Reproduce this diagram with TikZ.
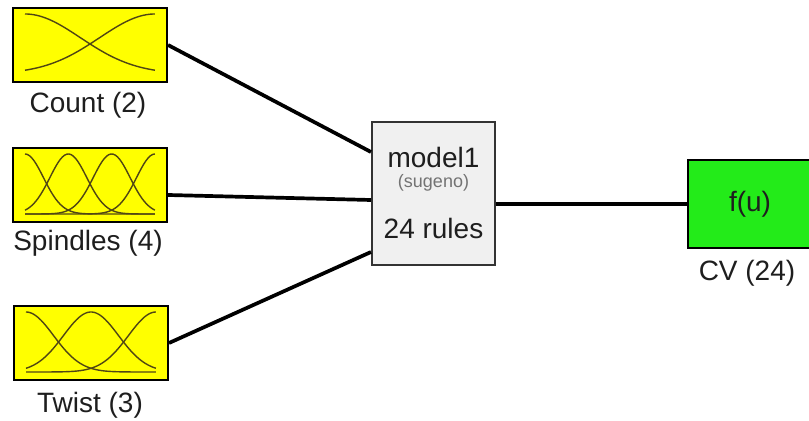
\documentclass[tikz,border=0pt]{standalone}
\usepackage{fontspec}
\setmainfont{Liberation Sans}
\definecolor{mfyellow}{RGB}{255,255,0}
\definecolor{outgreen}{RGB}{35,235,25}
\definecolor{fisgray}{RGB}{240,240,240}
\definecolor{mfline}{RGB}{80,70,20}
\definecolor{labtext}{RGB}{30,30,30}

\tikzset{
    inbox/.style={draw=black, line width=1pt, fill=mfyellow, minimum width=77pt, minimum height=37pt, inner sep=0pt},
    fisbox/.style={draw=black!80, line width=1pt, fill=fisgray, minimum width=61.5pt, minimum height=71.5pt, inner sep=0pt},
    outbox/.style={draw=black, line width=1pt, fill=outgreen, minimum width=62pt, minimum height=44pt, inner sep=0pt},
    lab/.style={text=labtext, font=\fontsize{14}{16}\selectfont, inner sep=0pt},
    link/.style={-, line width=1.85pt, black}
}

% gaussian membership curves inside a box
\newcommand{\drawmfs}[3]{%
    \begin{scope}[shift={(#1.center)}]
        \foreach \c in {#2}
            \draw[mfline, line width=0.7pt] plot[domain=0:1, samples=60, smooth]
                ({-65+130*\x}, {29-60*exp(-((\x-\c)*(\x-\c))/(2*#3*#3))});
    \end{scope}}

\begin{document}
\begin{tikzpicture}[x=0.5pt, y=-0.5pt]
    \useasboundingbox (0,0) rectangle (809,421);
    \clip (0,0) rectangle (809,421);

    % inputs
    \node[inbox] (cnt) at (90,45) {};
    \node[inbox] (spd) at (90,185) {};
    \node[inbox] (twt) at (91,343) {};
    \drawmfs{cnt}{0,1}{0.425}
    \drawmfs{spd}{0,1/3,2/3,1}{0.142}
    \drawmfs{twt}{0,0.5,1}{0.212}
    \node[lab] (cntlab) at (88,105) {Count (2)};
    \node[lab] (spdlab) at (88,243) {Spindles (4)};
    \node[lab] (twtlab) at (90,405) {Twist (3)};

    % system
    \node[fisbox] (model) at (433.5,193.5) {};
    \node[lab] (mname) at ([yshift=18.25pt]model.center) {model1};
    \node[lab, text=black!55, font=\fontsize{9}{10}\selectfont] (mtype) at ([yshift=5.25pt]model.center) {(sugeno)};
    \node[lab] (mrules) at ([yshift=-17.25pt]model.center) {24 rules};

    % output
    \node[outbox] (fu) at (750,204) {};
    \node[lab] (fulab) at (fu.center) {f(u)};
    \node[lab] (cvlab) at (747,273) {CV (24)};

    % connections
    \draw[link] (cnt.east) -- ([yshift=20.75pt]model.west);
    \draw[link] ([yshift=-5pt]spd.east) -- ([yshift=-3.25pt]model.west);
    \draw[link] (twt.east) -- ([yshift=-29.25pt]model.west);
    \draw[link] (model.east |- fu.west) -- (fu.west);
\end{tikzpicture}
\end{document}
